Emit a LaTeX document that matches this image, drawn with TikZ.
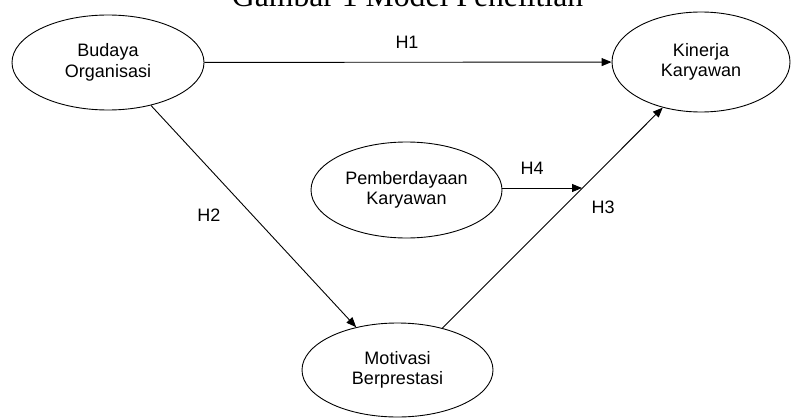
\documentclass[tikz,border=0pt]{standalone}
\usepackage{fontspec}
\setmainfont{Liberation Sans}
\newfontfamily\titlefont{Liberation Serif}
\usetikzlibrary{shapes.geometric,arrows.meta}
\begin{document}
\begin{tikzpicture}[x=1pt,y=-1pt,
  var/.style={draw,ellipse,line width=0.9pt,inner sep=0pt,align=center,
    font=\fontsize{18}{20.5}\selectfont},
  lbl/.style={font=\fontsize{18}{20}\selectfont,inner sep=0pt},
  conn/.style={line width=0.9pt,-{Triangle[length=10pt,width=8pt]}}]
\useasboundingbox (0,0) rectangle (791,417);
\node[anchor=base,inner sep=0pt,font=\titlefont\fontsize{31.7}{34}\selectfont] (title) at (407.5,7) {Gambar 1 Model Penelitian};
\node[var,minimum width=192pt,minimum height=95pt] (bo) at (108,62.5) {Budaya\\Organisasi};
\node[var,minimum width=178pt,minimum height=100pt] (ki) at (701,62) {Kinerja\\Karyawan};
\node[var,minimum width=191pt,minimum height=96pt] (pe) at (406.5,190) {Pemberdayaan\\Karyawan};
\node[var,minimum width=191pt,minimum height=94pt] (mo) at (397.5,370) {Motivasi\\Berprestasi};
\coordinate (h4end) at (582,188);
\draw[conn] (bo) -- (ki);
\draw[conn] (bo.-45) -- (mo.134);
\draw[conn] (mo.43) -- (ki.230);
\draw[conn] (pe.east |- h4end) -- (h4end);
\node[lbl] (h1) at (407,42) {H1};
\node[lbl] (h2) at (209,215) {H2};
\node[lbl] (h3) at (603,207) {H3};
\node[lbl] (h4) at (532,168) {H4};
\end{tikzpicture}
\end{document}
